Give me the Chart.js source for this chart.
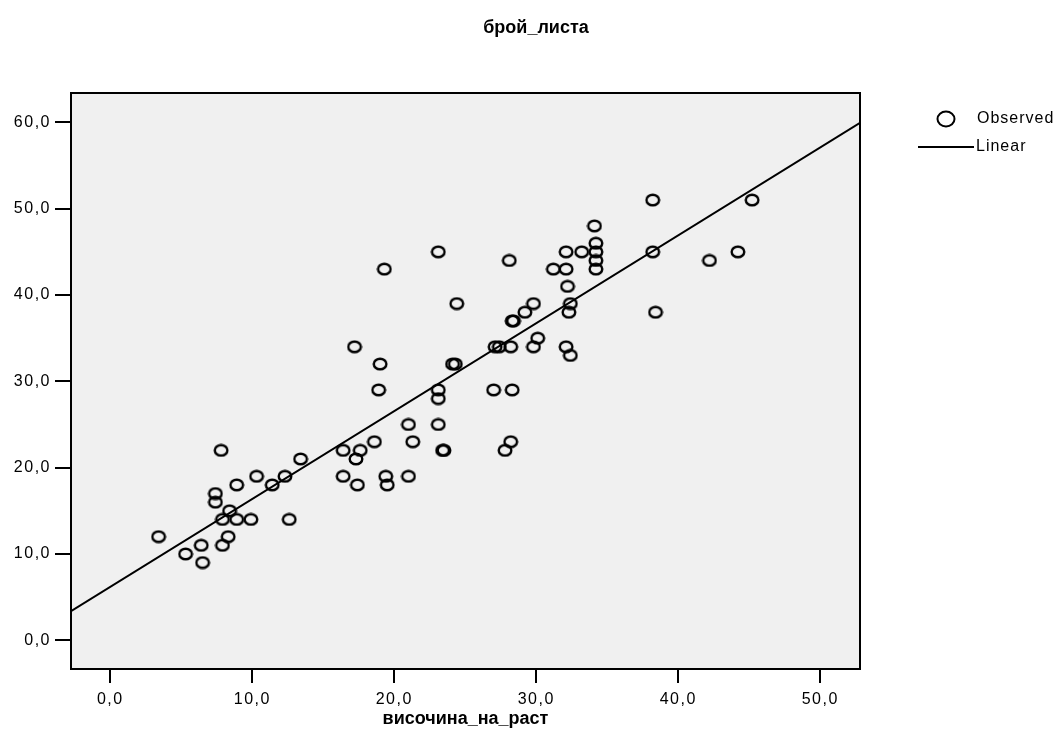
<!DOCTYPE html>
<html>
<head>
<meta charset="utf-8">
<script src="https://cdn.jsdelivr.net/npm/chart.js@4/dist/chart.umd.min.js"></script>
<style>
  html, body { margin: 0; padding: 0; background: #fff; }
  canvas { display: block; }
</style>
</head>
<body>
<canvas id="scatterChart" width="1064" height="751"></canvas>
<script>
// данни: височина_на_раст (x) и брой_листа (y)
const heightValues = [3.4, 5.3, 6.4, 6.5, 7.4, 7.4, 7.8, 7.9, 7.9, 8.4, 8.3, 8.9, 8.9, 9.9, 10.3, 11.4, 12.3, 12.6, 13.4,
    16.4, 16.4, 17.2, 17.3, 17.4, 17.6, 18.6, 18.9, 19.0, 19.3, 19.4, 19.5, 21.0, 21.0, 21.3, 23.1, 23.1, 23.1, 23.1,
    23.4, 23.5, 24.1, 24.3, 24.4, 27.0, 27.1, 27.4, 27.8, 28.1, 28.2, 28.3, 28.2, 28.3, 28.4, 29.2, 29.8, 29.8, 30.1,
    31.2, 32.1, 32.1, 32.2, 32.1, 32.3, 32.4, 32.4, 33.2, 34.1, 34.2, 34.2, 34.2, 34.2, 38.2, 38.2, 38.4, 42.2, 44.2, 45.2];
const leafValues = [12, 10, 11, 9, 17, 16, 22, 14, 11, 15, 12, 18, 14, 14, 19, 18, 19, 14, 21,
    19, 22, 34, 21, 18, 22, 23, 29, 32, 43, 19, 18, 25, 19, 23, 45, 25, 29, 28,
    22, 22, 32, 32, 39, 29, 34, 34, 22, 44, 23, 29, 34, 37, 37, 38, 39, 34, 35,
    43, 43, 45, 41, 34, 38, 39, 33, 45, 48, 46, 45, 44, 43, 51, 45, 38, 44, 45, 51];

// линейна регресия (Linear)
const fitIntercept = 6.2;
const fitSlope = 1.018;

const xRange = [-2.77, 52.8];
const yRange = [-3.33, 63.4];
const xTicks = [0, 10, 20, 30, 40, 50];
const yTicks = [0, 10, 20, 30, 40, 50, 60];

const chartTitle = 'брой_листа';
const xTitle = 'височина_на_раст';
const legendLabels = ['Observed', 'Linear'];

const fontFamily = '"Liberation Sans", Arial, sans-serif';
Chart.defaults.font.family = fontFamily;
Chart.defaults.color = '#000';

function ringImage(w, h) {
    const c = document.createElement('canvas');
    c.width = w;
    c.height = h;
    const g = c.getContext('2d');
    g.strokeStyle = '#000';
    g.lineWidth = 2.4;
    g.beginPath();
    g.ellipse(w / 2, h / 2, w / 2 - 1.7, h / 2 - 1.7, 0, 0, Math.PI * 2);
    g.stroke();
    return c;
}

const commaLabel = v => v.toFixed(1).replace('.', ',');

const frameAndText = {
    id: 'frameAndText',
    beforeDraw(chart) {
        const { ctx, chartArea: a } = chart;
        ctx.save();
        ctx.fillStyle = '#F0F0F0';
        ctx.fillRect(a.left, a.top, a.right - a.left, a.bottom - a.top);
        ctx.restore();
        ctx.letterSpacing = '1.5px';
    },
    afterDraw(chart) {
        const { ctx, chartArea: a } = chart;
        ctx.save();
        ctx.letterSpacing = '0px';
        ctx.strokeStyle = '#000';
        ctx.lineWidth = 2;
        ctx.strokeRect(a.left, a.top, a.right - a.left, a.bottom - a.top);

        ctx.fillStyle = '#000';
        ctx.textAlign = 'center';
        ctx.textBaseline = 'middle';
        ctx.font = 'bold 18px ' + fontFamily;
        ctx.fillText(chartTitle, 536, 28);
        ctx.fillText(xTitle, (a.left + a.right) / 2, 719);

        // легенда
        ctx.lineWidth = 2;
        ctx.beginPath();
        ctx.ellipse(946, 119, 8.5, 7.5, 0, 0, Math.PI * 2);
        ctx.stroke();
        ctx.beginPath();
        ctx.moveTo(918, 147);
        ctx.lineTo(974, 147);
        ctx.stroke();
        ctx.letterSpacing = '1px';
        ctx.font = '16px ' + fontFamily;
        ctx.textAlign = 'left';
        ctx.fillText(legendLabels[0], 977, 119);
        ctx.fillText(legendLabels[1], 976, 147);
        ctx.restore();
    }
};

new Chart(document.getElementById('scatterChart'), {
    type: 'scatter',
    data: {
        datasets: [{
            label: legendLabels[0],
            data: heightValues.map((x, i) => ({ x: x, y: leafValues[i] })),
            pointStyle: ringImage(16, 14),
            pointRadius: 7,
            pointHoverRadius: 7
        }, {
            type: 'line',
            label: legendLabels[1],
            data: xRange.map(x => ({ x: x, y: fitIntercept + fitSlope * x })),
            borderColor: '#000',
            borderWidth: 2,
            pointRadius: 0,
            fill: false
        }]
    },
    options: {
        responsive: false,
        animation: false,
        layout: { padding: { top: 93, right: 204, left: 0, bottom: 0 } },
        scales: {
            x: {
                type: 'linear',
                min: xRange[0],
                max: xRange[1],
                afterBuildTicks: s => { s.ticks = xTicks.map(v => ({ value: v })); },
                afterFit: s => { s.height = 82; },
                grid: { drawOnChartArea: false, drawTicks: true, tickLength: 14, color: '#000', lineWidth: 2 },
                border: { display: false },
                ticks: { font: { size: 16 }, padding: 7, maxRotation: 0, callback: v => commaLabel(v) }
            },
            y: {
                type: 'linear',
                min: yRange[0],
                max: yRange[1],
                afterBuildTicks: s => { s.ticks = yTicks.map(v => ({ value: v })); },
                afterFit: s => { s.width = 71; },
                grid: { drawOnChartArea: false, drawTicks: true, tickLength: 16, color: '#000', lineWidth: 2 },
                border: { display: false },
                ticks: { font: { size: 16 }, padding: 4, callback: v => commaLabel(v) }
            }
        },
        plugins: {
            legend: { display: false },
            title: { display: false },
            tooltip: { enabled: false }
        }
    },
    plugins: [frameAndText]
});
</script>
</body>
</html>
